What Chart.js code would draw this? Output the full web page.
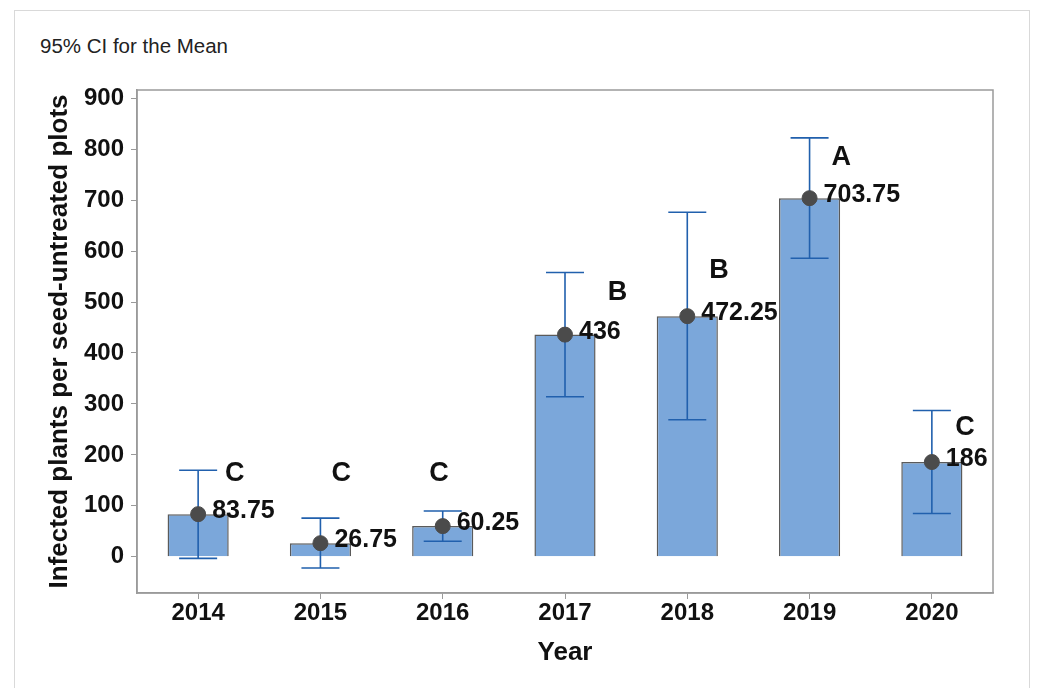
<!DOCTYPE html>
<html>
<head>
<meta charset="utf-8">
<script src="https://cdn.jsdelivr.net/npm/chart.js@4.4.1/dist/chart.umd.min.js"></script>
<style>
  html, body { margin: 0; padding: 0; background: #fff; }
  #wrap { position: relative; width: 1042px; height: 688px; overflow: hidden; }
  #frame { position: absolute; left: 14px; top: 10px; width: 1014px; height: 700px; border: 1px solid #d9d9d9; }
  #title { position: absolute; left: 40px; top: 34px; font: 20.5px "Liberation Sans", Arial, sans-serif; color: #222; }
  canvas { position: absolute; left: 0; top: 0; }
</style>
</head>
<body>
<div id="wrap">
  <div id="frame"></div>
  <div id="title">95% CI for the Mean</div>
  <canvas id="ciChart" width="1042" height="688"></canvas>
</div>
<script>
// data
const years = ["2014", "2015", "2016", "2017", "2018", "2019", "2020"];
const means = [83.75, 26.75, 60.25, 436, 472.25, 703.75, 186];
const ciLow = [-3, -22, 30.5, 314, 269, 586, 85];
const ciHigh = [170, 76, 90, 558, 676, 822, 287];
const groupLetters = ["C", "C", "C", "B", "B", "A", "C"];
const letterLevel = [163, 163, 163, 518, 561, 784, 253];
const letterShift = [0.3, 0.17, -0.03, 0.43, 0.26, 0.26, 0.27]; // in category widths
const yTicks = [0, 100, 200, 300, 400, 500, 600, 700, 800, 900];

const FONT = '"Liberation Sans", Arial, sans-serif';

// CI bars, mean labels and group letters
const ciPlugin = {
  id: "ciPlugin",
  afterDatasetDraw(chart, args) {
    if (args.index !== 0) return;
    const { ctx } = chart;
    const x = chart.scales.x, y = chart.scales.y;
    ctx.save();
    ctx.strokeStyle = "#2160ad";
    ctx.lineWidth = 1.6;
    means.forEach((m, i) => {
      const cx = x.getPixelForValue(i);
      const yl = y.getPixelForValue(ciLow[i]);
      const yh = y.getPixelForValue(ciHigh[i]);
      ctx.beginPath();
      ctx.moveTo(cx, yl); ctx.lineTo(cx, yh);
      ctx.moveTo(cx - 19, yl); ctx.lineTo(cx + 19, yl);
      ctx.moveTo(cx - 19, yh); ctx.lineTo(cx + 19, yh);
      ctx.stroke();
    });
    ctx.restore();
  },
  afterDatasetsDraw(chart) {
    const { ctx, chartArea } = chart;
    const x = chart.scales.x, y = chart.scales.y;
    ctx.save();
    // plot box
    ctx.strokeStyle = "#9a9a9a";
    ctx.lineWidth = 1.5;
    ctx.strokeRect(chartArea.left, chartArea.top, chartArea.right - chartArea.left, chartArea.bottom - chartArea.top);
    const step = x.getPixelForValue(1) - x.getPixelForValue(0);
    ctx.fillStyle = "#111";
    ctx.textBaseline = "middle";
    ctx.textAlign = "left";
    ctx.font = "bold 25px " + FONT;
    means.forEach((m, i) => {
      ctx.fillText(String(m), x.getPixelForValue(i) + 14, y.getPixelForValue(m) - 3);
    });
    ctx.textAlign = "center";
    ctx.font = "bold 27px " + FONT;
    groupLetters.forEach((g, i) => {
      ctx.fillText(g, x.getPixelForValue(i) + letterShift[i] * step, y.getPixelForValue(letterLevel[i]));
    });
    ctx.restore();
  }
};

const ctx = document.getElementById("ciChart").getContext("2d");
new Chart(ctx, {
  data: {
    labels: years,
    datasets: [
      {
        type: "bar",
        data: means,
        backgroundColor: "rgb(123,167,218)",
        borderColor: "#5a5a5a",
        borderWidth: 1.5,
        barPercentage: 0.5,
        categoryPercentage: 1,
        order: 1
      },
      {
        type: "line",
        data: means,
        showLine: false,
        pointRadius: 7.5,
        pointBackgroundColor: "#4b4b4b",
        pointBorderColor: "#4b4b4b",
        order: 0
      }
    ]
  },
  options: {
    responsive: false,
    animation: false,
    layout: { padding: { top: 90, right: 49, left: 0, bottom: 0 } },
    plugins: { legend: { display: false }, tooltip: { enabled: false } },
    scales: {
      x: {
        grid: { display: true, offset: false, drawOnChartArea: false, drawTicks: true, tickLength: 6, color: "#9a9a9a" },
        border: { display: true, color: "#9a9a9a", width: 1.5 },
        ticks: { color: "#111", font: { family: FONT, size: 24, weight: "bold" }, padding: 0 },
        title: { display: true, text: "Year", color: "#111", font: { family: FONT, size: 26, weight: "bold" }, padding: { top: 0, bottom: 20 } },
        afterFit(scale) { scale.height = 95; }
      },
      y: {
        min: -71,
        max: 916,
        afterBuildTicks(scale) { scale.ticks = yTicks.map(v => ({ value: v })); },
        grid: { display: true, drawOnChartArea: false, drawTicks: true, tickLength: 6, color: "#9a9a9a" },
        border: { display: true, color: "#9a9a9a", width: 1.5 },
        ticks: { color: "#111", font: { family: FONT, size: 24, weight: "bold" }, padding: 7 },
        title: { display: true, text: "Infected plants per seed-untreated plots", color: "#111", font: { family: FONT, size: 26, weight: "bold" }, padding: { top: 44, bottom: 0 } },
        afterFit(scale) { scale.width = 137; }
      }
    }
  },
  plugins: [ciPlugin]
});
</script>
</body>
</html>
